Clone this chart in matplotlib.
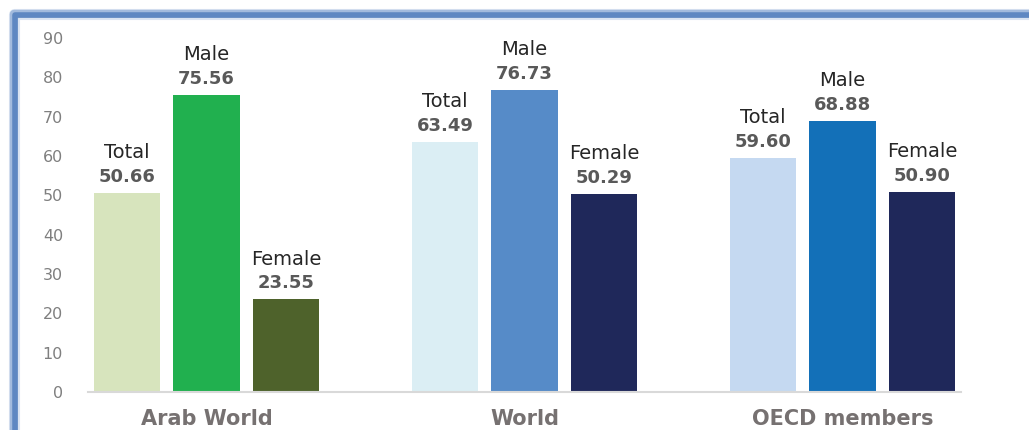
import matplotlib.pyplot as plt
from matplotlib.lines import Line2D
import numpy as np

regions = ["Arab World", "World", "OECD members"]
series = ["Total", "Male", "Female"]
values = [
    [50.66, 75.56, 23.55],
    [63.49, 76.73, 50.29],
    [59.60, 68.88, 50.90],
]
colors = [
    ["#d7e4bd", "#21b04f", "#4e622b"],
    ["#dbeef4", "#568bc8", "#1f285a"],
    ["#c5d9f1", "#1370b8", "#1f285a"],
]

fig = plt.figure(figsize=(10.29, 4.30), dpi=100)
ax = fig.add_axes([88 / 1029, 1 - 392 / 430, (961 - 88) / 1029, (392 - 38) / 430])

centers = np.arange(len(regions)) * 4.0
for i, reg in enumerate(regions):
    for j, s in enumerate(series):
        x = centers[i] + (j - 1)
        v = values[i][j]
        ax.bar(x, v, width=0.84, color=colors[i][j], zorder=2)
        ax.annotate(f"{v:.2f}", (x, v), xytext=(0, 11.5), textcoords="offset points",
                    ha="center", va="center", fontsize=13, fontweight="bold",
                    color="#595959")
        ax.annotate(s, (x, v), xytext=(0, 29), textcoords="offset points",
                    ha="center", va="center", fontsize=14, color="#262626")

ax.set_ylim(0, 90)
ax.set_xlim(centers[0] - 1.49, centers[-1] + 1.49)
ax.set_yticks(np.arange(0, 91, 10))
ax.set_xticks(centers)
ax.set_xticklabels(regions, fontsize=15, fontweight="bold", color="#767171")
ax.tick_params(axis="y", length=0, pad=18, labelsize=11.5, labelcolor="#7f7f7f")
ax.tick_params(axis="x", length=0, pad=12)
for sp in ["top", "right", "left"]:
    ax.spines[sp].set_visible(False)
ax.spines["bottom"].set_color("#d9d9d9")
ax.spines["bottom"].set_linewidth(1.5)

# blue frame with a soft shadow
W, H = 1029, 430
def px(x, y):
    return x / W, 1 - y / H
for off, lw, col, a in [(4, 8, "#9db7dc", 0.35), (2, 6, "#7ea0cf", 0.6), (0, 4, "#5f88c2", 1.0)]:
    x0, y0 = px(15 - off * 0.3, 430)
    x1, y1 = px(15 - off * 0.3, 15 - off * 0.3)
    x2, y2 = px(1029, 15 - off * 0.3)
    fig.add_artist(Line2D([x0, x1, x2], [y0, y1, y2], lw=lw, color=col, alpha=a,
                          solid_joinstyle="round"))
fig.add_artist(Line2D([px(19, 0)[0], px(19, 0)[0], 1], [0, px(0, 19)[1], px(0, 19)[1]],
                      lw=1.2, color="#dce6f2"))

plt.savefig("out.png", dpi=100)
